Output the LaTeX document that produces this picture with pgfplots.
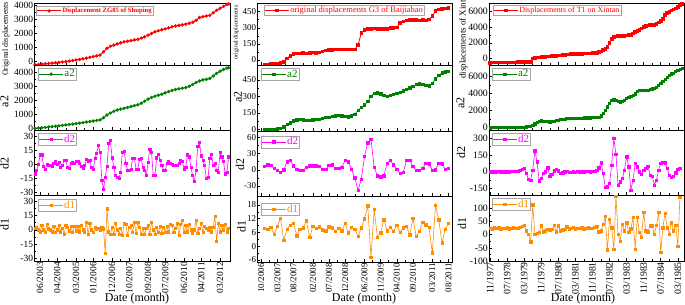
\documentclass[border=0pt]{standalone}
\usepackage{fontspec}
\setmainfont{Liberation Serif}
\usepackage{pgfplots}
\pgfplotsset{compat=1.18}
\definecolor{cred}{RGB}{255,0,0}
\definecolor{cgreen}{RGB}{0,128,0}
\definecolor{cmag}{RGB}{255,0,255}
\definecolor{corange}{RGB}{255,140,0}
\pgfplotsset{
  panel/.style={
    scale only axis, anchor=south west,
    axis line style={black, line width=0.6pt},
    tick align=inside, tick pos=left,
    major tick length=3bp, minor tick length=1.8bp,
    every tick/.style={black, line width=0.5pt},
    minor y tick num=1,
    /pgf/number format/assume math mode=true,
    /pgf/number format/set thousands separator={},
    yticklabel style={inner sep=1pt},
    legend cell align=left,
    legend style={draw=gray!70, line width=0.5pt, fill=white, inner sep=0.5pt, anchor=north west,
      nodes={inner sep=1pt}},
    legend image code/.code={\draw[mark repeat=2,mark phase=2] plot coordinates {(0cm,0cm) (0.42cm,0cm) (0.84cm,0cm)};},
    ylabel style={anchor=center, font=\fontsize{12}{12}\selectfont},
    every mark/.append style={line width=0.2pt},
  },
  c1/.style={panel, width=195.7bp, xmin=1.6, xmax=115.8,
    xtick={5,15,26,36,47,57,68,78,89,99,110},
    minor xtick={10,20.5,31,41.5,52,62.5,73,83.5,94,104.5},
    tick label style={font=\fontsize{9.5}{10}\selectfont}},
  c2/.style={panel, width=194.7bp, xmin=-1.2, xmax=59.1,
    xtick={0,5,10,16,21,26,32,37,42,47,53,58},
    minor xtick={2.5,7.5,13,18.5,23.5,29,34.5,39.5,44.5,50,55.5},
    tick label style={font=\fontsize{9}{10}\selectfont}},
  c3/.style={panel, width=195bp, xmin=-0.5, xmax=90.9,
    xtick={0,8,...,88}, minor xtick={4,12,...,84},
    tick label style={font=\fontsize{9.8}{10}\selectfont}},
  sleg/.style={legend style={font=\fontsize{11}{11}\selectfont}},
}
\begin{document}
\begin{tikzpicture}
\useasboundingbox (0,0) rectangle (685bp,305bp);

% ================= Column 1 =================
\begin{axis}[c1, at={(34.3bp,240bp)}, height=62bp, ymin=-290, ymax=4140,
  ytick={0,1000,2000,3000,4000}, xticklabels={},
  ylabel={Original displacements},
  ylabel style={font=\fontsize{8}{8}\selectfont, at={(axis description cs:-0.145,0.42)}},
  legend style={at={(axis description cs:0.009,0.95)}, font=\fontsize{6.7}{7}\selectfont\bfseries}]
\addplot[cred, line width=0.9pt, mark=*, mark size=1.2pt] coordinates {
(2,-270)(4,-250)(6,-230)(8,-205)(10,-180)(12,-155)(14,-130)(16,-100)(18,-75)(20,-50)(22,-10)(24,30)(26,70)(28,110)(30,150)(32,200)(34,260)(36,310)(38,360)(40,420)(42,650)(44,900)(46,1050)(48,1130)(50,1210)(52,1290)(54,1370)(56,1410)(58,1450)(60,1500)(62,1540)(64,1630)(66,1720)(68,1840)(70,1960)(72,2080)(74,2160)(76,2230)(78,2290)(80,2360)(82,2440)(84,2500)(86,2540)(88,2580)(90,2630)(92,2690)(94,2760)(96,2900)(98,3100)(100,3160)(102,3210)(104,3260)(106,3440)(108,3620)(110,3760)(112,3900)(114,4040)(115,4080)};
\addlegendentry{\textcolor{cred}{Displacement ZG85 of Shuping}}
\end{axis}

\begin{axis}[c1, at={(34.3bp,175bp)}, height=65bp, ymin=-120, ymax=4550,
  ytick={0,1000,2000,3000,4000}, xticklabels={},
  ylabel={a2}, ylabel style={at={(axis description cs:-0.152,0.44)}},
  sleg, legend style={at={(axis description cs:0.019,0.954)}}]
\addplot[cgreen, line width=0.9pt, mark=*, mark size=1.2pt] coordinates {
(2,0)(4,20)(6,45)(8,70)(10,100)(12,125)(14,150)(16,180)(18,210)(20,240)(22,270)(24,305)(26,340)(28,375)(30,410)(32,450)(34,490)(36,530)(38,565)(40,610)(42,760)(44,960)(46,1100)(48,1220)(50,1320)(52,1380)(54,1440)(56,1500)(58,1570)(60,1630)(62,1690)(64,1800)(66,1950)(68,2100)(70,2220)(72,2310)(74,2380)(76,2450)(78,2550)(80,2640)(82,2720)(84,2790)(86,2840)(88,2880)(90,2930)(92,3020)(94,3150)(96,3290)(98,3400)(100,3480)(102,3520)(104,3580)(106,3760)(108,3950)(110,4100)(112,4230)(114,4330)(115,4350)};
\addlegendentry{\textcolor{cgreen}{a2}}
\end{axis}

\begin{axis}[c1, at={(34.3bp,110bp)}, height=65bp, ymin=-32.4, ymax=36.3,
  ytick={-30,-15,0,15,30}, xticklabels={},
  ylabel={d2}, ylabel style={at={(axis description cs:-0.152,0.48)}},
  sleg, legend style={at={(axis description cs:0.019,0.954)}}]
\addplot[cmag, line width=0.6pt, mark=square*, mark size=1.1pt] coordinates {
(2,-10)(3,-6)(4,0)(5,10)(6,10)(7,-2)(8,-5)(9,0)(10,-1)(11,-1)(12,-2)(13,1)(14,3)(15,0)(16,2)(17,-3)(18,-1)(19,4)(20,4)(21,-3)(22,-4)(23,1)(24,2)(25,1)(26,3)(27,3)(28,1)(29,-2)(30,-4)(31,-1)(32,5)(33,3)(34,4)(35,-3)(36,-5)(37,6)(38,12)(39,20)(40,13)(41,-17)(42,-26)(43,-14)(44,-2)(45,22)(46,25)(47,7)(48,-3)(49,-12)(50,-14)(51,-15)(52,-8)(53,13)(54,14)(55,1)(56,-6)(57,-6)(58,-5)(59,6)(60,6)(61,-5)(62,-5)(63,5)(64,6)(65,-3)(66,-6)(67,-12)(68,2)(69,16)(70,13)(71,-12)(72,-12)(73,7)(74,11)(75,4)(76,-1)(77,-6)(78,-6)(79,1)(80,3)(81,1)(82,0)(83,-1)(84,-1)(85,-1)(86,1)(87,4)(88,3)(89,-5)(90,-3)(91,10)(92,8)(93,-3)(94,-12)(95,-18)(96,-6)(97,19)(98,23)(99,9)(100,4)(101,-1)(102,-15)(103,-14)(104,6)(105,11)(106,-1)(107,1)(108,-6)(109,-8)(110,13)(111,8)(112,3)(113,-10)(114,-8)(115,8)};
\addlegendentry{\textcolor{cmag}{d2}}
\end{axis}

\begin{axis}[c1, at={(34.3bp,44bp)}, height=66bp, ymin=-32.8, ymax=36.6,
  ytick={-30,-15,0,15,30},
  xticklabels={06/2003,04/2004,03/2005,01/2006,12/2006,10/2007,09/2008,07/2009,06/2010,04/2011,03/2012},
  xticklabel style={rotate=90, anchor=east, inner sep=1pt},
  ylabel={d1}, ylabel style={at={(axis description cs:-0.152,0.56)}},
  sleg, legend style={at={(axis description cs:0.019,0.94)}}]
\addplot[corange, line width=0.6pt, mark=square*, mark size=1.1pt] coordinates {
(2,2)(3,3)(4,0)(5,-2)(6,5)(7,0)(8,-3)(9,6)(10,1)(11,0)(12,-2)(13,4)(14,-3)(15,0)(16,5)(17,-2)(18,2)(19,-5)(20,5)(21,3)(22,-1)(23,4)(24,-3)(25,4)(26,-1)(27,4)(28,-2)(29,5)(30,0)(31,-2)(32,8)(33,-5)(34,7)(35,0)(36,-3)(37,3)(38,1)(39,2)(40,0)(41,3)(42,1)(43,-25)(44,22)(45,-2)(46,-5)(47,3)(48,-5)(49,7)(50,0)(51,-5)(52,2)(53,-6)(54,7)(55,6)(56,-6)(57,3)(58,5)(59,-3)(60,8)(61,-4)(62,8)(63,3)(64,-5)(65,2)(66,-5)(67,2)(68,5)(69,-5)(70,8)(71,0)(72,-5)(73,3)(74,-3)(75,4)(76,-4)(77,3)(78,-3)(79,4)(80,-2)(81,6)(82,5)(83,-3)(84,2)(85,7)(86,-6)(87,6)(88,10)(89,-3)(90,5)(91,-2)(92,6)(93,0)(94,-4)(95,0)(96,10)(97,-4)(98,2)(99,7)(100,-3)(101,4)(102,2)(103,0)(104,3)(105,-2)(106,3)(107,14)(108,-12)(109,7)(110,-2)(111,5)(112,0)(113,6)(114,-2)(115,2)};
\addlegendentry{\textcolor{corange}{d1}}
\end{axis}
\node[anchor=south, inner sep=0.5pt, font=\fontsize{12}{12}\selectfont] at (137bp,0bp) {Date (month)};

% ================= Column 2 =================
\begin{axis}[c2, at={(257.3bp,240bp)}, height=62bp, ymin=-46.6, ymax=531,
  ytick={0,150,300,450}, xticklabels={},
  ylabel={original displacements},
  ylabel style={font=\fontsize{6}{6}\selectfont, at={(axis description cs:-0.109,0.53)}},
  legend style={at={(axis description cs:0.034,0.968)}, font=\fontsize{8.5}{9}\selectfont}]
\addplot[cred, line width=0.8pt, mark=square*, mark size=1.3pt] coordinates {
(1,-40)(2,-40)(3,-38)(4,-35)(5,-33)(6,-28)(7,-15)(8,15)(9,40)(10,55)(11,60)(12,62)(13,65)(14,62)(15,68)(16,70)(17,68)(18,72)(19,80)(20,88)(21,92)(22,95)(23,98)(24,100)(25,98)(26,100)(27,98)(28,97)(29,98)(30,140)(31,250)(32,280)(33,290)(34,292)(35,295)(36,292)(37,290)(38,288)(39,292)(40,298)(41,300)(42,302)(43,345)(44,360)(45,368)(46,372)(47,372)(48,375)(49,370)(50,372)(51,370)(52,378)(53,410)(54,455)(55,470)(56,478)(57,482)(58,488)};
\addlegendentry{\textcolor{cred}{original displacements G3 of Baijiabao}}
\end{axis}

\begin{axis}[c2, at={(257.3bp,174bp)}, height=66bp, ymin=-14, ymax=586,
  ytick={0,150,300,450}, xticklabels={},
  ylabel={a2}, ylabel style={at={(axis description cs:-0.099,0.51)}},
  sleg, legend style={at={(axis description cs:0.019,0.954)}}]
\addplot[cgreen, line width=0.6pt, mark=square*, mark size=1.2pt] coordinates {
(1,0)(2,0)(3,2)(4,3)(5,5)(6,12)(7,25)(8,45)(9,60)(10,80)(11,88)(12,92)(13,88)(14,85)(15,85)(16,87)(17,90)(18,95)(19,100)(20,108)(21,112)(22,118)(23,125)(24,128)(25,125)(26,118)(27,115)(28,125)(29,140)(30,175)(31,200)(32,225)(33,255)(34,300)(35,330)(36,335)(37,325)(38,312)(39,300)(40,310)(41,320)(42,330)(43,340)(44,350)(45,365)(46,380)(47,395)(48,408)(49,415)(50,410)(51,400)(52,398)(53,420)(54,460)(55,490)(56,515)(57,525)(58,530)};
\addlegendentry{\textcolor{cgreen}{a2}}
\end{axis}

\begin{axis}[c2, at={(257.3bp,109bp)}, height=65bp, ymin=-48.5, ymax=71.6,
  ytick={-30,0,30,60}, xticklabels={},
  ylabel={d2}, ylabel style={at={(axis description cs:-0.089,0.48)}},
  sleg, legend style={at={(axis description cs:0.019,0.93)}}]
\addplot[cmag, line width=0.6pt, mark=square*, mark size=1.2pt] coordinates {
(1,6)(2,9)(3,8)(4,3)(5,-1)(6,-5)(7,0)(8,15)(9,17)(10,7)(11,1)(12,-1)(13,-1)(14,5)(15,7)(16,7)(17,7)(18,6)(19,1)(20,1)(21,8)(22,9)(23,3)(24,3)(25,5)(26,17)(27,15)(28,1)(29,-15)(30,-38)(31,-18)(32,25)(33,50)(34,56)(35,5)(36,-11)(37,-13)(38,-11)(39,12)(40,17)(41,9)(42,1)(43,-7)(44,-5)(45,17)(46,18)(47,6)(48,-1)(49,-1)(50,3)(51,12)(52,11)(53,-1)(54,0)(55,12)(56,11)(57,1)(58,3)};
\addlegendentry{\textcolor{cmag}{d2}}
\end{axis}

\begin{axis}[c2, at={(257.3bp,43bp)}, height=66bp, ymin=-6.9, ymax=21.9,
  ytick={-6,0,6,12,18},
  xticklabels={10/2006,03/2007,08/2007,02/2008,07/2008,12/2008,06/2009,11/2009,04/2010,09/2010,03/2011,08/2011},
  xticklabel style={rotate=90, anchor=east, inner sep=1pt},
  ylabel={d1}, ylabel style={at={(axis description cs:-0.081,0.545)}},
  sleg, legend style={at={(axis description cs:0.019,0.894)}}]
\addplot[corange, line width=0.6pt, mark=square*, mark size=1.2pt] coordinates {
(1,7.8)(2,7.5)(3,8.2)(4,5.3)(5,8.7)(6,12.1)(7,2.5)(8,7.5)(9,9.2)(10,10.1)(11,4.6)(12,7.5)(13,8)(14,11.1)(15,3.9)(16,8.7)(17,7.8)(18,8.4)(19,7.2)(20,6.8)(21,8.5)(22,8)(23,6.4)(24,7.8)(25,6.8)(26,10.1)(27,5.8)(28,8.2)(29,7.5)(30,4.3)(31,8)(32,12)(33,17.6)(34,-4.8)(35,16.2)(36,3.9)(37,5.8)(38,11.6)(39,6.8)(40,8.2)(41,6.5)(42,9)(43,6.1)(44,8)(45,8.7)(46,4.9)(47,12.1)(48,4.3)(49,6.4)(50,10.4)(51,9.4)(52,8.2)(53,-2.9)(54,17.9)(55,11.6)(56,1.4)(57,7.5)(58,10.1)};
\addlegendentry{\textcolor{corange}{d1}}
\end{axis}
\node[anchor=south, inner sep=0.5pt, font=\fontsize{12}{12}\selectfont] at (364bp,0bp) {Date (month)};

% ================= Column 3 =================
\begin{axis}[c3, at={(489bp,240bp)}, height=62bp, ymin=-864, ymax=7120,
  ytick={0,2000,4000,6000}, xticklabels={},
  ylabel={displacements of Xintan},
  ylabel style={font=\fontsize{9}{9}\selectfont, at={(axis description cs:-0.131,0.48)}},
  legend style={at={(axis description cs:0.02,0.968)}, font=\fontsize{8}{9}\selectfont}]
\addplot[cred, line width=0.8pt, mark=square*, mark size=1.3pt] coordinates {
(0,-560)(1,-555)(2,-550)(3,-545)(4,-540)(5,-540)(6,-535)(7,-530)(8,-525)(9,-520)(10,-515)(11,-510)(12,-505)(13,-500)(14,-495)(15,-490)(16,-485)(17,-480)(18,-475)(19,-470)(20,-20)(21,60)(22,100)(23,130)(24,160)(25,180)(26,200)(27,230)(28,250)(29,280)(30,300)(31,330)(32,360)(33,390)(34,420)(35,450)(36,480)(37,510)(38,540)(39,555)(40,570)(41,580)(42,590)(43,600)(44,610)(45,620)(46,630)(47,645)(48,660)(49,690)(50,720)(51,800)(52,900)(53,1050)(54,1200)(55,1500)(56,2000)(57,2500)(58,2750)(59,2800)(60,2850)(61,2880)(62,2900)(63,2920)(64,2950)(65,2980)(66,3000)(67,3200)(68,3420)(69,3550)(70,3640)(71,3850)(72,4070)(73,4150)(74,4220)(75,4280)(76,4290)(77,4300)(78,4450)(79,4600)(80,4850)(81,5100)(82,5600)(83,5860)(84,6000)(85,6150)(86,6300)(87,6420)(88,6600)(89,6800)(90,7000)};
\addlegendentry{\textcolor{cred}{Displacements of T1 on Xintan}}
\end{axis}

\begin{axis}[c3, at={(489bp,175bp)}, height=65bp, ymin=-270, ymax=7380,
  ytick={0,2000,4000,6000}, xticklabels={},
  ylabel={a2}, ylabel style={at={(axis description cs:-0.146,0.41)}},
  sleg, legend style={at={(axis description cs:0.015,0.954)}}]
\addplot[cgreen, line width=0.6pt, mark=square*, mark size=1.1pt] coordinates {
(0,0)(1,5)(2,10)(3,15)(4,20)(5,25)(6,30)(7,35)(8,40)(9,45)(10,50)(11,55)(12,60)(13,65)(14,70)(15,80)(16,90)(17,100)(18,130)(19,200)(20,310)(21,450)(22,600)(23,750)(24,820)(25,800)(26,760)(27,720)(28,700)(29,720)(30,780)(31,850)(32,900)(33,950)(34,1000)(35,1030)(36,1060)(37,1080)(38,1100)(39,1110)(40,1120)(41,1130)(42,1140)(43,1150)(44,1160)(45,1165)(46,1170)(47,1175)(48,1180)(49,1185)(50,1190)(51,1250)(52,1400)(53,1700)(54,2050)(55,2450)(56,2850)(57,3200)(58,3280)(59,3220)(60,3120)(61,3060)(62,3100)(63,3250)(64,3450)(65,3600)(66,3700)(67,3800)(68,4000)(69,4250)(70,4430)(71,4450)(72,4450)(73,4440)(74,4450)(75,4500)(76,4580)(77,4650)(78,4800)(79,5000)(80,5200)(81,5450)(82,5700)(83,5950)(84,6200)(85,6350)(86,6450)(87,6600)(88,6750)(89,6900)(90,7000)};
\addlegendentry{\textcolor{cgreen}{a2}}
\end{axis}

\begin{axis}[c3, at={(489bp,110bp)}, height=65bp, ymin=-210, ymax=375,
  ytick={-150,0,150,300}, xticklabels={},
  ylabel={d2}, ylabel style={at={(axis description cs:-0.144,0.65)}},
  sleg, legend style={at={(axis description cs:0.015,0.954)}}]
\addplot[cmag, line width=0.6pt, mark=square*, mark size=1.2pt] coordinates {
(0,0)(1,0)(2,-1)(3,0)(4,1)(5,0)(6,0)(7,-1)(8,0)(9,0)(10,1)(11,2)(12,3)(13,5)(14,10)(15,21)(16,30)(17,-15)(18,-69)(19,-75)(20,15)(21,189)(22,90)(23,-81)(24,-60)(25,-15)(26,0)(27,36)(28,-39)(29,-24)(30,9)(31,21)(32,9)(33,-15)(34,-9)(35,0)(36,6)(37,-6)(38,-3)(39,0)(40,-3)(41,3)(42,0)(43,3)(44,0)(45,3)(46,6)(47,0)(48,3)(49,6)(50,15)(51,36)(52,81)(53,-15)(54,-141)(55,-135)(56,-105)(57,60)(58,300)(59,156)(60,-120)(61,-90)(62,-60)(63,15)(64,135)(65,45)(66,-165)(67,-75)(68,75)(69,45)(70,0)(71,-24)(72,15)(73,30)(74,51)(75,-30)(76,-39)(77,-120)(78,-75)(79,15)(80,75)(81,85)(82,80)(83,30)(84,-30)(85,-51)(86,-40)(87,-9)(88,21)(89,30)};
\addlegendentry{\textcolor{cmag}{d2}}
\end{axis}

\begin{axis}[c3, at={(489bp,44bp)}, height=66bp, ymin=-100, ymax=151,
  ytick={-100,-50,0,50,100},
  xticklabels={11/1977,07/1978,03/1979,11/1979,07/1980,03/1981,11/1981,07/1982,03/1983,11/1983,07/1984,03/1985},
  xticklabel style={rotate=90, anchor=east, inner sep=1pt},
  ylabel={d1}, ylabel style={at={(axis description cs:-0.138,0.57)}},
  sleg, legend style={at={(axis description cs:0.015,0.955)}}]
\addplot[corange, line width=0.6pt, mark=square*, mark size=1.2pt] coordinates {
(0,25)(1,22)(2,26)(3,24)(4,27)(5,23)(6,25)(7,24)(8,27)(9,22)(10,25)(11,26)(12,24)(13,25)(14,28)(15,31)(16,35)(17,15)(18,2)(19,-27)(20,113)(21,2)(22,5)(23,8)(24,34)(25,11)(26,15)(27,20)(28,18)(29,21)(30,36)(31,11)(32,34)(33,15)(34,18)(35,21)(36,30)(37,22)(38,25)(39,28)(40,22)(41,25)(42,24)(43,27)(44,23)(45,25)(46,26)(47,24)(48,25)(49,28)(50,31)(51,11)(52,15)(53,40)(54,69)(55,-58)(56,59)(57,27)(58,-55)(59,146)(60,2)(61,-24)(62,40)(63,15)(64,46)(65,8)(66,23)(67,66)(68,-55)(69,66)(70,8)(71,-11)(72,85)(73,15)(74,11)(75,34)(76,34)(77,2)(78,36)(79,85)(80,-68)(81,27)(82,82)(83,27)(84,2)(85,46)(86,15)(87,36)(88,-43)(89,142)};
\addlegendentry{\textcolor{corange}{d1}}
\end{axis}
\node[anchor=south, inner sep=0.5pt, font=\fontsize{12}{12}\selectfont] at (583bp,0bp) {Date (month)};
\end{tikzpicture}
\end{document}
